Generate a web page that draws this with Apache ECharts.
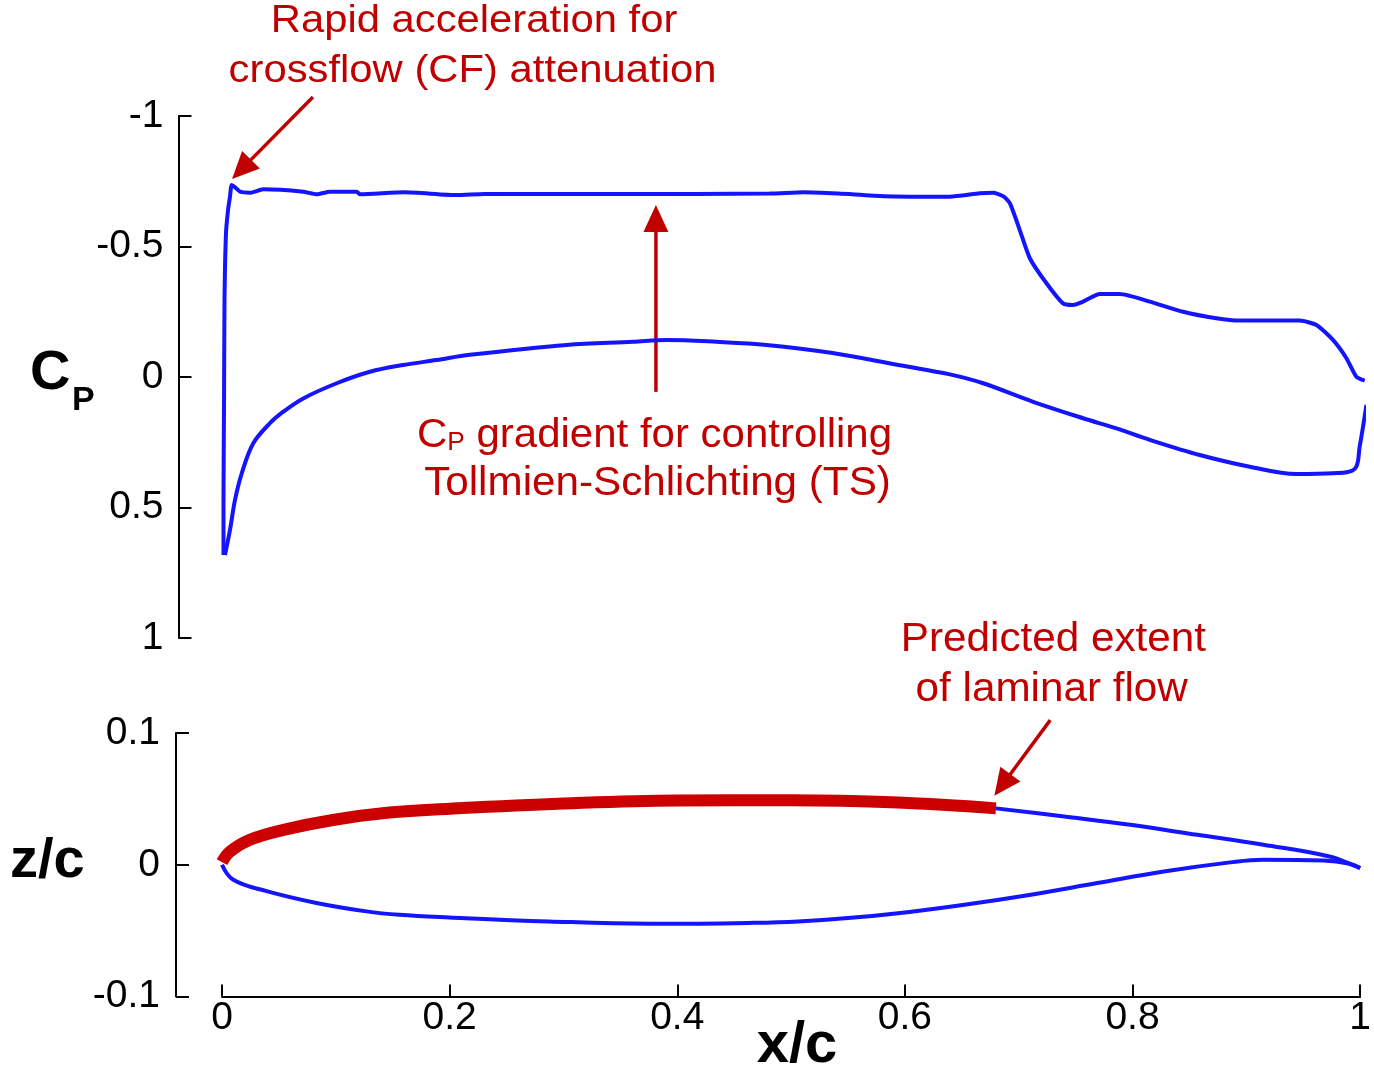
<!DOCTYPE html>
<html>
<head>
<meta charset="utf-8">
<script src="https://cdn.jsdelivr.net/npm/echarts@6/dist/echarts.min.js"></script>
<style>
  html, body { margin: 0; padding: 0; background: #fff; }
  #chart { width: 1374px; height: 1068px; }
</style>
</head>
<body>
<div id="chart"></div>
<script>
// pressure coefficient, upper surface
const cpUpperX = [0.0013, 0.0013, 0.0018, 0.0022, 0.0035, 0.0053, 0.0070, 0.0085, 0.0114, 0.0158, 0.0245, 0.0362, 0.0712, 0.0830, 0.0946, 0.1180, 0.1210, 0.1600, 0.2056, 0.2300, 0.3500, 0.4800, 0.5100, 0.5400, 0.5800, 0.6377, 0.6640, 0.6756, 0.6844, 0.6903, 0.6990, 0.7078, 0.7224, 0.7369, 0.7457, 0.7545, 0.7691, 0.7866, 0.8129, 0.8421, 0.8713, 0.8917, 0.9443, 0.9589, 0.9734, 0.9852, 0.9939, 1.0012]
const cpUpperY = [0.682, 0.470, 0.088, -0.295, -0.552, -0.640, -0.691, -0.736, -0.727, -0.710, -0.706, -0.719, -0.710, -0.700, -0.710, -0.710, -0.700, -0.708, -0.697, -0.701, -0.701, -0.703, -0.708, -0.703, -0.693, -0.691, -0.704, -0.706, -0.693, -0.666, -0.563, -0.455, -0.359, -0.282, -0.276, -0.289, -0.318, -0.318, -0.289, -0.250, -0.225, -0.216, -0.216, -0.199, -0.142, -0.072, -0.001, 0.014]

// pressure coefficient, lower surface
const cpLowerX = [0.0026, 0.0070, 0.0114, 0.0173, 0.0274, 0.0420, 0.0537, 0.0712, 0.1005, 0.1296, 0.1588, 0.1880, 0.2172, 0.3020, 0.3600, 0.3895, 0.4333, 0.4771, 0.5350, 0.5940, 0.6377, 0.6669, 0.7107, 0.7545, 0.7837, 0.8129, 0.8567, 0.9005, 0.9414, 0.9734, 0.9925, 0.9968, 1.0027]
const cpLowerY = [0.682, 0.586, 0.471, 0.369, 0.254, 0.177, 0.133, 0.082, 0.024, -0.020, -0.046, -0.065, -0.085, -0.123, -0.135, -0.142, -0.135, -0.123, -0.092, -0.045, -0.010, 0.024, 0.095, 0.158, 0.197, 0.241, 0.299, 0.344, 0.372, 0.369, 0.352, 0.267, 0.107]

// airfoil geometry: laminar part of the upper surface, the rest of it, lower surface
const laminarX = [0.000, 0.007, 0.0245, 0.054, 0.0975, 0.147, 0.200, 0.300, 0.400, 0.500, 0.594, 0.680]
const laminarZ = [0.002, 0.010, 0.019, 0.0265, 0.034, 0.0396, 0.0425, 0.0465, 0.0488, 0.049, 0.0472, 0.0428]
const upperAftX = [0.680, 0.740, 0.798, 0.857, 0.915, 0.973, 0.998, 1.000]
const upperAftZ = [0.0428, 0.0366, 0.0303, 0.0227, 0.0152, 0.0063, -0.0018, -0.0025]
const lowerX = [0.000, 0.0099, 0.0392, 0.083, 0.1268, 0.1559, 0.200, 0.287, 0.375, 0.4187, 0.4625, 0.506, 0.550, 0.594, 0.6523, 0.7107, 0.769, 0.8275, 0.8859, 0.915, 0.9677, 0.991, 1.000]
const lowerZ = [0.000, -0.0114, -0.020, -0.029, -0.0354, -0.038, -0.040, -0.043, -0.0447, -0.0447, -0.0442, -0.0430, -0.0405, -0.0368, -0.0303, -0.0227, -0.0139, -0.0051, 0.0018, 0.0038, 0.0033, 0.0008, -0.0025]

const FONT = '"Liberation Sans", Arial, Helvetica, sans-serif'
const RED = '#c00000'
const BLUE = '#1414ff'

// annotation arrows, in data coordinates of their grid
const arrows = [
  { grid: 0, from: [0.0797, -1.073], to: [0.0088, -0.759] },
  { grid: 0, from: [0.3802, 0.057], to: [0.3802, -0.659] },
  { grid: 1, from: [0.7277, 0.1098], to: [0.6786, 0.0523] }
]

const zip = (xs, ys) => xs.map((x, i) => [x, ys[i]])

const axisLine = { show: true, onZero: false, lineStyle: { color: '#000', width: 2 } }
const axisTick = { show: true, inside: true, length: 13, lineStyle: { color: '#000', width: 2 } }
const axisLabel = { color: '#000', fontSize: 39, fontFamily: FONT }

const curve = (data, xi, color, width, smooth, z) => ({
  type: 'line',
  xAxisIndex: xi,
  yAxisIndex: xi,
  data,
  symbol: 'none',
  smooth,
  clip: false,
  z: z || 2,
  lineStyle: { color, width, cap: 'butt' }
})

const text = (str, x, y, size, opts = {}) => ({
  type: 'text',
  x,
  y,
  scaleX: opts.scaleX || 1,
  style: {
    text: str,
    fill: opts.color || RED,
    fontSize: size,
    fontFamily: FONT,
    fontWeight: opts.bold ? 'bold' : 'normal',
    align: opts.align || 'center',
    verticalAlign: 'middle',
    rich: opts.rich
  }
})

const chart = echarts.init(document.getElementById('chart'))

chart.setOption({
  animation: false,
  backgroundColor: '#fff',
  grid: [
    { left: 222, right: 10.7, top: 116, height: 522 },
    { left: 222, right: 10.7, top: 733, height: 263.5 }
  ],
  xAxis: [
    { gridIndex: 0, type: 'value', min: 0, max: 1, show: false },
    {
      gridIndex: 1, type: 'value', min: 0, max: 1, interval: 0.2,
      axisLine, axisTick: { ...axisTick, length: 12 },
      axisLabel: { ...axisLabel, margin: 2 },
      splitLine: { show: false }
    }
  ],
  yAxis: [
    {
      gridIndex: 0, type: 'value', min: -1, max: 1, interval: 0.5, inverse: true,
      offset: 43.5, axisLine, axisTick,
      axisLabel: { ...axisLabel, margin: 15 },
      splitLine: { show: false }
    },
    {
      gridIndex: 1, type: 'value', min: -0.1, max: 0.1, interval: 0.1,
      offset: 46, axisLine, axisTick,
      axisLabel: { ...axisLabel, margin: 16 },
      splitLine: { show: false }
    }
  ],
  series: [
    curve(zip(cpUpperX, cpUpperY), 0, BLUE, 4, 0.2),
    curve(zip(cpLowerX, cpLowerY), 0, BLUE, 4, 0.35),
    curve(zip(lowerX, lowerZ), 1, BLUE, 4, 0.4),
    curve(zip(upperAftX, upperAftZ), 1, BLUE, 4, 0.4),
    curve(zip(laminarX, laminarZ), 1, '#cc0000', 12, 0.4, 3)
  ]
})

// arrows are anchored to the data space of each grid
const arrowGraphics = []
arrows.forEach(a => {
  const finder = { xAxisIndex: a.grid, yAxisIndex: a.grid }
  const p0 = chart.convertToPixel(finder, a.from)
  const p1 = chart.convertToPixel(finder, a.to)
  const dx = p1[0] - p0[0]
  const dy = p1[1] - p0[1]
  const len = Math.sqrt(dx * dx + dy * dy)
  const ux = dx / len
  const uy = dy / len
  const headLen = 27
  const headHalf = 12.5
  const bx = p1[0] - ux * headLen
  const by = p1[1] - uy * headLen
  arrowGraphics.push({
    type: 'polyline',
    shape: { points: [p0, [bx + ux * 2, by + uy * 2]] },
    style: { stroke: RED, lineWidth: 3.5, fill: null }
  })
  arrowGraphics.push({
    type: 'polygon',
    shape: { points: [p1, [bx - uy * headHalf, by + ux * headHalf], [bx + uy * headHalf, by - ux * headHalf]] },
    style: { fill: RED }
  })
})

const gradientRich = {
  big: { fontSize: 40, fontFamily: FONT, color: RED },
  sub: { fontSize: 25, fontFamily: FONT, color: RED, verticalAlign: 'bottom' }
}

chart.setOption({
  graphic: [
    ...arrowGraphics,
    text('Rapid acceleration for', 474, 22, 38, { scaleX: 1.1 }),
    text('crossflow (CF) attenuation', 472.5, 72, 38, { scaleX: 1.1 }),
    text('{big|C}{sub|P}{big| gradient for controlling}', 654.5, 436, 40, { rich: gradientRich, scaleX: 1.05 }),
    text('Tollmien-Schlichting (TS)', 657.5, 484, 40, { scaleX: 1.055 }),
    text('Predicted extent', 1053.4, 640, 41, { scaleX: 1.03 }),
    text('of laminar flow', 1051.7, 690, 41, { scaleX: 1.03 }),
    // axis titles
    text('C', 30, 374, 56, { bold: true, color: '#000', align: 'left' }),
    text('P', 72, 401, 34, { bold: true, color: '#000', align: 'left' }),
    text('z/c', 10, 862, 56, { bold: true, color: '#000', align: 'left' }),
    text('x/c', 797, 1046, 58, { bold: true, color: '#000' })
  ]
})
</script>
</body>
</html>
